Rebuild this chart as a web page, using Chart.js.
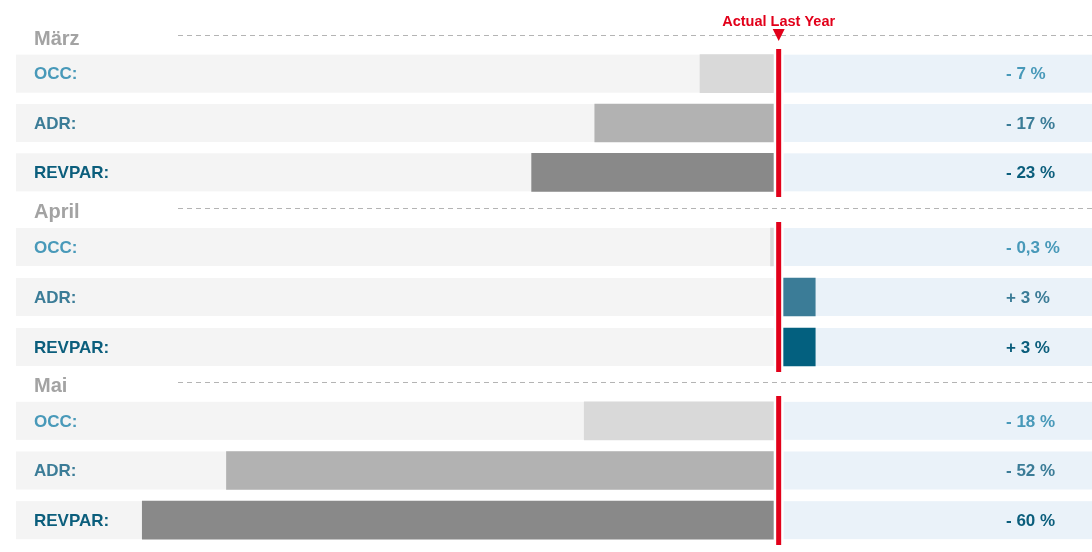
<!DOCTYPE html>
<html>
<head>
<meta charset="utf-8">
<script src="https://cdn.jsdelivr.net/npm/chart.js@4.4.1/dist/chart.umd.min.js"></script>
<style>
  html, body { margin: 0; padding: 0; background: #fff; }
  .block { position: relative; width: 1092px; }
</style>
</head>
<body>
<div class="block" style="height:197px"><canvas id="c0"></canvas></div>
<div class="block" style="height:175px"><canvas id="c1"></canvas></div>
<div class="block" style="height:180px"><canvas id="c2"></canvas></div>
<script>
// --- data ---
const months = ['März', 'April', 'Mai'];
const kpis = ['OCC:', 'ADR:', 'REVPAR:'];
const maerzValues = [-7, -17, -23];
const aprilValues = [-0.3, 3, 3];
const maiValues = [-18, -52, -60];
const refLabel = 'Actual Last Year';

// --- look ---
const FONT = "'Liberation Sans', Arial, sans-serif";
const kpiColors = ['#4899b9', '#3b7c97', '#0b5e7c'];
const negColors = ['#d9d9d9', '#b2b2b2', '#898989'];
const posColors = ['#4899b9', '#3b7c97', '#03607f'];
const RED = '#e2001a';

// percent range left of the reference line, right of it, and the gap around it
const LEFT_MIN = -72;
const RIGHT_MAX = 29.3;
const GAP = 0.95;

function fmt(v) {
  return (v < 0 ? '- ' : '+ ') + String(Math.abs(v)).replace('.', ',') + ' %';
}

function rowsPlugin(month, values, showRef) {
  return {
    id: 'rows',
    beforeDraw(chart) {
      const { ctx, chartArea, scales } = chart;
      const zeroL = scales.xl.getPixelForValue(0);
      const zeroR = scales.xr.getPixelForValue(0);
      ctx.save();
      kpis.forEach((k, i) => {
        const cy = scales.y.getPixelForValue(i);
        ctx.fillStyle = '#f4f4f4';
        ctx.fillRect(chartArea.left, cy - 19, zeroL - chartArea.left, 38);
        ctx.fillStyle = '#eaf2f9';
        ctx.fillRect(zeroR, cy - 19, chartArea.right - zeroR, 38);
      });

      // month heading with dashed rule
      ctx.fillStyle = '#a3a3a3';
      ctx.font = 'bold 20px ' + FONT;
      ctx.textAlign = 'left';
      ctx.textBaseline = 'alphabetic';
      ctx.fillText(month, chartArea.left + 18, chartArea.top - 4);
      ctx.strokeStyle = '#b4b4b4';
      ctx.lineWidth = 1;
      ctx.setLineDash([5, 4]);
      ctx.beginPath();
      ctx.moveTo(178, chartArea.top - 13.5);
      ctx.lineTo(chartArea.right, chartArea.top - 13.5);
      ctx.stroke();
      ctx.restore();
    },
    afterDatasetsDraw(chart) {
      const { ctx, chartArea, scales } = chart;
      const cx = (scales.xl.getPixelForValue(0) + scales.xr.getPixelForValue(0)) / 2;
      ctx.save();
      ctx.fillStyle = RED;
      ctx.fillRect(cx - 2.5, chartArea.top, 5, chartArea.bottom - chartArea.top);

      if (showRef) {
        ctx.beginPath();
        ctx.moveTo(cx - 6, chartArea.top - 20);
        ctx.lineTo(cx + 6, chartArea.top - 20);
        ctx.lineTo(cx, chartArea.top - 8);
        ctx.closePath();
        ctx.fill();
        ctx.font = 'bold 14.5px ' + FONT;
        ctx.textAlign = 'center';
        ctx.textBaseline = 'alphabetic';
        ctx.fillText(refLabel, cx, chartArea.top - 23);
      }

      // row labels on the left, value labels on the right
      ctx.font = 'bold 17px ' + FONT;
      ctx.textAlign = 'left';
      ctx.textBaseline = 'middle';
      values.forEach((v, i) => {
        const cy = scales.y.getPixelForValue(i) + 1;
        ctx.fillStyle = kpiColors[i];
        ctx.fillText(kpis[i], chartArea.left + 18, cy);
        ctx.fillText(fmt(v), chartArea.right - 86, cy);
      });
      ctx.restore();
    }
  };
}

function buildChart(canvasId, month, values, padding, showRef) {
  return new Chart(document.getElementById(canvasId), {
    type: 'bar',
    data: {
      labels: kpis,
      datasets: [
        {
          label: 'neg',
          data: values.map(v => (v < 0 ? v : null)),
          xAxisID: 'xl',
          backgroundColor: negColors,
          barThickness: 38,
          grouped: false
        },
        {
          label: 'pos',
          data: values.map(v => (v > 0 ? v : null)),
          xAxisID: 'xr',
          backgroundColor: posColors,
          barThickness: 38,
          grouped: false
        }
      ]
    },
    options: {
      indexAxis: 'y',
      responsive: true,
      maintainAspectRatio: false,
      animation: false,
      layout: { padding: { left: 16, right: 0, top: padding[0], bottom: padding[1] } },
      plugins: { legend: { display: false }, tooltip: { enabled: false } },
      scales: {
        y: {
          type: 'category',
          position: 'left',
          grid: { display: false, drawTicks: false },
          border: { display: false },
          ticks: { display: false }
        },
        xl: {
          type: 'linear', axis: 'x', position: 'bottom',
          stack: 'pct', stackWeight: -LEFT_MIN,
          min: LEFT_MIN, max: 0, display: false
        },
        xr: {
          type: 'linear', axis: 'x', position: 'bottom',
          stack: 'pct', stackWeight: RIGHT_MAX + GAP,
          min: -GAP, max: RIGHT_MAX, display: false
        }
      }
    },
    plugins: [rowsPlugin(month, values, showRef)]
  });
}

buildChart('c0', months[0], maerzValues, [49, 0], true);
buildChart('c1', months[1], aprilValues, [25, 0], false);
buildChart('c2', months[2], maiValues, [24, 7], false);
</script>
</body>
</html>
